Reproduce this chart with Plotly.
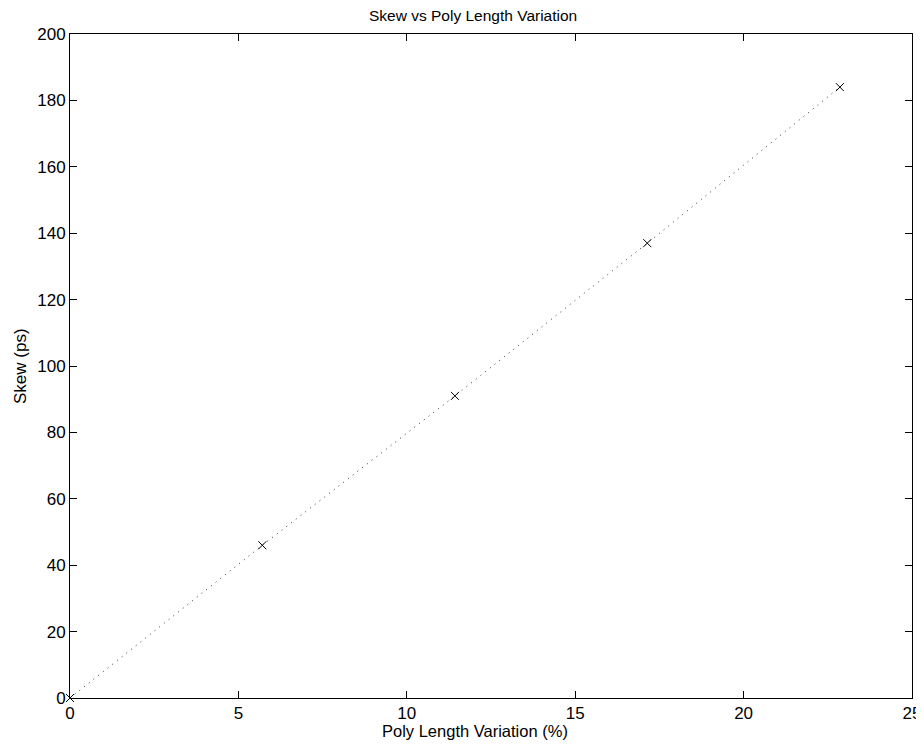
import plotly.graph_objects as go

x_vals = [0, 5.71, 11.43, 17.14, 22.86]
y_vals = [0, 46, 91, 137, 184]
x_ticks = [0, 5, 10, 15, 20, 25]
y_ticks = [0, 20, 40, 60, 80, 100, 120, 140, 160, 180, 200]

FONT = "Liberation Sans, Arial, sans-serif"

fig = go.Figure()
fig.add_trace(go.Scatter(
    x=x_vals, y=y_vals, mode="lines",
    line=dict(color="#333333", width=1, dash="1px,5px"),
    showlegend=False, cliponaxis=False,
))
fig.add_trace(go.Scatter(
    x=x_vals, y=y_vals, mode="markers",
    marker=dict(symbol="x-thin", size=8, color="black",
                line=dict(color="black", width=1)),
    showlegend=False, cliponaxis=False,
))

axis_common = dict(
    showline=True, linecolor="black", linewidth=1, mirror="ticks",
    ticks="inside", ticklen=7, tickcolor="black", tickwidth=1,
    showgrid=False, zeroline=False, automargin=False,
    tickfont=dict(family=FONT, size=17, color="black"),
)
fig.update_xaxes(range=[0, 25], tickvals=x_ticks, **axis_common)
fig.update_yaxes(range=[0, 200], tickvals=y_ticks, **axis_common)

fig.add_annotation(text="Poly Length Variation (%)", xref="paper", yref="paper",
                   x=0.481, y=-0.0497, xanchor="center", yanchor="middle",
                   showarrow=False, font=dict(family=FONT, size=16.5, color="black"))
fig.add_annotation(text="Skew (ps)", xref="paper", yref="paper",
                   x=-0.0594, y=0.50, xanchor="center", yanchor="middle",
                   textangle=-90, showarrow=False,
                   font=dict(family=FONT, size=17, color="black"))
fig.add_annotation(text="Skew vs Poly Length Variation", xref="paper", yref="paper",
                   x=0.4786, y=1.0286, xanchor="center", yanchor="middle",
                   showarrow=False, font=dict(family=FONT, size=15.5, color="black"))

fig.update_layout(
    width=916, height=742,
    margin=dict(l=62, r=12, t=26, b=52),
    plot_bgcolor="white", paper_bgcolor="white",
)
fig.write_html("out.html")
